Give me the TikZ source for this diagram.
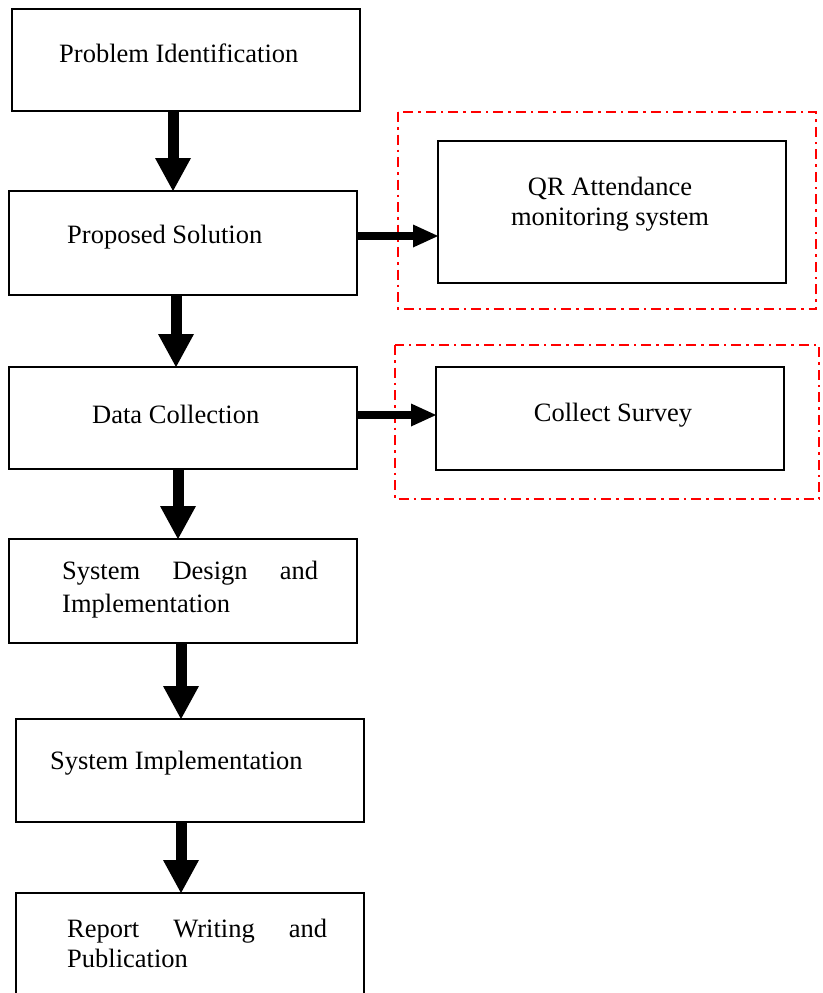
\documentclass[tikz,border=0pt]{standalone}
\usepackage{fontspec}
\setmainfont{Liberation Serif}
\usetikzlibrary{arrows.meta}
\begin{document}
\begin{tikzpicture}[x=1pt,y=-1pt,
  box/.style={draw=black,line width=2pt,inner sep=0pt,outer sep=0pt,minimum width=348pt},
  redbox/.style={draw=red,line width=2pt,dash pattern=on 10pt off 5pt on 2.5pt off 5pt},
  txt/.style={anchor=base west,inner sep=0pt,font=\fontsize{26.5}{30}\selectfont},
  ctxt/.style={anchor=base,inner sep=0pt,font=\fontsize{26.5}{30}\selectfont},
  varrow/.style={line width=11pt,-{Triangle[length=33pt,width=36pt,line width=0pt]}},
  harrow/.style={line width=8pt,-{Triangle[length=25pt,width=23pt,line width=0pt]}}]
\useasboundingbox (0,0) rectangle (822,993);
\clip (0,0) rectangle (822,993);
\fill[white] (0,0) rectangle (822,993);
% red dash-dot frames
\draw[redbox] (398,112) rectangle (816,309);
\draw[redbox] (395,345) rectangle (819,499);
% boxes
\node[box,minimum height=102pt] (b1) at (186,60) {};
\node[box,minimum height=104pt] (b2) at (183,243) {};
\node[box,minimum height=102pt] (b3) at (183,418) {};
\node[box,minimum height=104pt] (b4) at (183,591) {};
\node[box,minimum height=103pt] (b5) at (190,770.5) {};
\node[box,minimum height=103pt] (b6) at (190,944.5) {};
\node[box,minimum height=142pt] (qr) at (612,212) {};
\node[box,minimum height=103pt] (cs) at (610,418.5) {};
% texts
\node[txt] (t1) at (59,62) {Problem Identification};
\node[txt] (t2) at (67,243) {Proposed Solution};
\node[ctxt] (tq1) at (610,195) {QR Attendance};
\node[ctxt] (tq2) at (610,225) {monitoring system};
\node[txt] (t3) at (92,423) {Data Collection};
\node[ctxt] (tc) at (613,421) {Collect Survey};
\node[txt] (t4a) at (62,579) {\hbox to 256pt{System\hfill Design\hfill and}};
\node[txt] (t4b) at (62,612) {Implementation};
\node[txt] (t5) at (50,769) {System Implementation};
\node[txt] (t6a) at (67,937) {\hbox to 260pt{Report\hfill Writing\hfill and}};
\node[txt] (t6b) at (67,967) {Publication};
% arrows
\draw[varrow] ([xshift=-13pt]b1.south) -- ([xshift=-10pt]b2.north);
\draw[varrow] ([xshift=-7pt]b2.south) -- ([xshift=-7pt]b3.north);
\draw[varrow] ([xshift=-5pt]b3.south) -- ([xshift=-5pt]b4.north);
\draw[varrow] ([xshift=-2pt]b4.south) -- ([xshift=-9pt]b5.north);
\draw[varrow] ([xshift=-9pt]b5.south) -- ([xshift=-9pt]b6.north);
\draw[harrow] ([yshift=7pt]b2.east) -- ([yshift=-24pt]qr.west);
\draw[harrow] ([yshift=3pt]b3.east) -- ([yshift=3.5pt]cs.west);
\end{tikzpicture}
\end{document}
